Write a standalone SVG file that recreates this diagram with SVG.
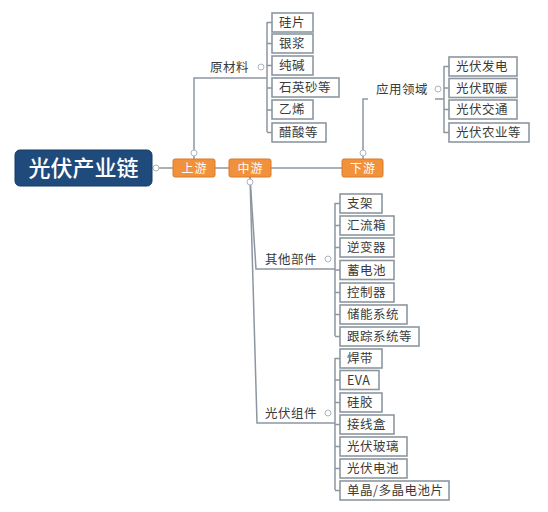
<svg xmlns="http://www.w3.org/2000/svg" width="548" height="512" viewBox="0 0 548 512">
<style>
.ln{fill:none;stroke:#8d96a0;stroke-width:1.5}
.bx{fill:#fff;stroke:#8d96a0;stroke-width:1.6}
.t{font-family:"Noto Sans CJK SC","Liberation Sans",sans-serif;font-size:12.5px;fill:#3a3a3a;letter-spacing:0.5px}
.lb{font-family:"Noto Sans CJK SC","Liberation Sans",sans-serif;font-size:12.5px;fill:#3a3a3a;letter-spacing:0.5px}
.or{fill:#f2913c;stroke:#d97a2a;stroke-width:1}
.ot{font-family:"Noto Sans CJK SC","Liberation Sans",sans-serif;font-size:12px;fill:#fff;text-anchor:middle;letter-spacing:1px}
.c{fill:#fff;stroke:#b0b6bd;stroke-width:1}
</style>
<rect width="548" height="512" fill="#fff"/>
<g id="connectors">
<line class="ln" x1="152" y1="168" x2="173" y2="168"/>
<line class="ln" x1="215" y1="168" x2="229" y2="168"/>
<line class="ln" x1="271" y1="168" x2="342" y2="168"/>
<polyline class="ln" points="194,159 194,78 267,78"/>
<line class="ln" x1="267" y1="22" x2="267" y2="132"/>
<path class="ln" d="M267 22.5H272M267 43.5H272M267 65.5H272M267 88H272M267 110H272M267 132.5H272"/>
<polyline class="ln" points="363,159 363,99 368,99"/>
<line class="ln" x1="435" y1="99" x2="444" y2="99"/>
<line class="ln" x1="444" y1="66" x2="444" y2="133"/>
<path class="ln" d="M444 66.5H449M444 88H449M444 109.5H449M444 132.5H449"/>
<polyline class="ln" points="250,177 256,269 335,269"/>
<polyline class="ln" points="250,177 257,423 335,423"/>
<line class="ln" x1="335" y1="203" x2="335" y2="336"/>
<path class="ln" d="M335 203.5H340M335 225.5H340M335 247.5H340M335 270H340M335 292.5H340M335 314.5H340M335 336.5H340"/>
<line class="ln" x1="335" y1="358" x2="335" y2="490"/>
<path class="ln" d="M335 358.5H340M335 380H340M335 402.5H340M335 424.5H340M335 446.5H340M335 468.5H340M335 490.5H340"/>
</g>
<g id="main">
<rect x="15" y="150" width="137" height="36" rx="5" fill="#1f4b7c" stroke="#163a62" stroke-width="1"/>
<text x="83.5" y="176" font-family="Noto Sans CJK SC,Liberation Sans,sans-serif" font-size="22" font-weight="500" fill="#fff" text-anchor="middle">光伏产业链</text>
<circle class="c" cx="156" cy="168" r="3"/>
</g>
<g id="upstream">
<rect class="or" x="173" y="159" width="42" height="18" rx="2"/>
<text class="ot" x="194.5" y="172.5">上游</text>
<circle class="c" cx="194" cy="153" r="3"/>
</g>
<g id="midstream">
<rect class="or" x="229" y="159" width="42" height="18" rx="2"/>
<text class="ot" x="250.5" y="172.5">中游</text>
<circle class="c" cx="250" cy="182" r="3"/>
</g>
<g id="downstream">
<rect class="or" x="342" y="159" width="41" height="18" rx="2"/>
<text class="ot" x="363" y="172.5">下游</text>
<circle class="c" cx="363" cy="153" r="3"/>
</g>
<g id="raw">
<text class="lb" x="210" y="71.5">原材料</text>
<circle class="c" cx="261" cy="67" r="3"/>
</g>
<g id="app">
<text class="lb" x="376" y="93.5">应用领域</text>
<circle class="c" cx="438" cy="89" r="3"/>
</g>
<g id="other">
<text class="lb" x="265" y="263.5">其他部件</text>
<circle class="c" cx="328" cy="259" r="3"/>
</g>
<g id="module">
<text class="lb" x="265" y="417.5">光伏组件</text>
<circle class="c" cx="328" cy="413" r="3"/>
</g>
<g id="r1"><rect class="bx" x="272" y="13" width="41" height="19"/><text class="t" x="279" y="27">硅片</text></g>
<g id="r2"><rect class="bx" x="272" y="34" width="41" height="19"/><text class="t" x="279" y="48">银浆</text></g>
<g id="r3"><rect class="bx" x="272" y="56" width="41" height="19"/><text class="t" x="279" y="70">纯碱</text></g>
<g id="r4"><rect class="bx" x="272" y="78" width="67" height="19"/><text class="t" x="279" y="92">石英砂等</text></g>
<g id="r5"><rect class="bx" x="272" y="100" width="41" height="19"/><text class="t" x="279" y="114">乙烯</text></g>
<g id="r6"><rect class="bx" x="272" y="123" width="54" height="19"/><text class="t" x="279" y="137">醋酸等</text></g>
<g id="a1"><rect class="bx" x="449" y="57" width="68" height="19"/><text class="t" x="456" y="71">光伏发电</text></g>
<g id="a2"><rect class="bx" x="449" y="78.5" width="68" height="19"/><text class="t" x="456" y="92.5">光伏取暖</text></g>
<g id="a3"><rect class="bx" x="449" y="100" width="68" height="19"/><text class="t" x="456" y="114">光伏交通</text></g>
<g id="a4"><rect class="bx" x="449" y="123" width="80" height="19"/><text class="t" x="456" y="137">光伏农业等</text></g>
<g id="o1"><rect class="bx" x="340" y="194" width="42" height="19"/><text class="t" x="347" y="208">支架</text></g>
<g id="o2"><rect class="bx" x="340" y="216" width="54" height="19"/><text class="t" x="347" y="230">汇流箱</text></g>
<g id="o3"><rect class="bx" x="340" y="238" width="54" height="19"/><text class="t" x="347" y="252">逆变器</text></g>
<g id="o4"><rect class="bx" x="340" y="260.5" width="54" height="19"/><text class="t" x="347" y="274.5">蓄电池</text></g>
<g id="o5"><rect class="bx" x="340" y="283" width="54" height="19"/><text class="t" x="347" y="297">控制器</text></g>
<g id="o6"><rect class="bx" x="340" y="305" width="67" height="19"/><text class="t" x="347" y="319">储能系统</text></g>
<g id="o7"><rect class="bx" x="340" y="327" width="79" height="19"/><text class="t" x="347" y="341">跟踪系统等</text></g>
<g id="m1"><rect class="bx" x="340" y="349" width="42" height="19"/><text class="t" x="347" y="363">焊带</text></g>
<g id="m2"><rect class="bx" x="340" y="370.5" width="39" height="19"/><text class="t" x="347" y="384.5">EVA</text></g>
<g id="m3"><rect class="bx" x="340" y="393" width="42" height="19"/><text class="t" x="347" y="407">硅胶</text></g>
<g id="m4"><rect class="bx" x="340" y="415" width="54" height="19"/><text class="t" x="347" y="429">接线盒</text></g>
<g id="m5"><rect class="bx" x="340" y="437" width="67" height="19"/><text class="t" x="347" y="451">光伏玻璃</text></g>
<g id="m6"><rect class="bx" x="340" y="459" width="67" height="19"/><text class="t" x="347" y="473">光伏电池</text></g>
<g id="m7"><rect class="bx" x="340" y="481" width="109" height="19"/><text class="t" x="347" y="495">单晶/多晶电池片</text></g>
</svg>
